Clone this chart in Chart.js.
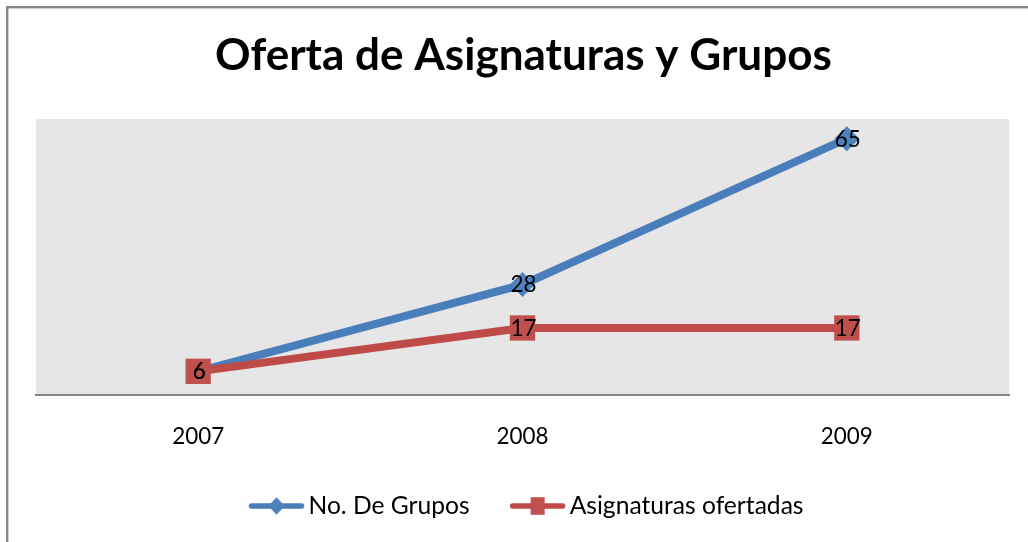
<!DOCTYPE html>
<html>
<head>
<meta charset="utf-8">
<script src="https://cdn.jsdelivr.net/npm/chart.js@4.4.0/dist/chart.umd.min.js"></script>
<style>
  html, body { margin: 0; padding: 0; background: #ffffff; }
  #wrap { position: relative; width: 1028px; height: 542px; }
</style>
</head>
<body>
<div id="wrap"><canvas id="c" width="1028" height="542"></canvas></div>
<script>
// ---- data ----
const chartTitle = 'Oferta de Asignaturas y Grupos';
const categories = ['2007', '2008', '2009'];
const seriesNames = ['No. De Grupos', 'Asignaturas ofertadas'];
const gruposValues = [6, 28, 65];
const asignaturasValues = [6, 17, 17];
const yMin = 0;
const yMax = 70;

// ---- styling ----
const FAMILY = 'Lato';
const BLUE_LINE = '#4A7EBB', BLUE_MARK = '#4F81BD';
const RED_LINE = '#BE4B48', RED_MARK = '#C0504D';

function fitFont(text, width, weight) {
  const c = document.createElement('canvas').getContext('2d');
  c.font = weight + ' 100px ' + FAMILY;
  return 100 * width / c.measureText(text).width;
}

function legendImage(kind, iw, c0) {
  const cv = document.createElement('canvas');
  cv.width = iw; cv.height = 20;
  const g = cv.getContext('2d');
  const cy = 10;
  g.lineCap = 'round';
  g.lineWidth = 5.5;
  g.strokeStyle = kind === 'blue' ? BLUE_LINE : RED_LINE;
  g.beginPath(); g.moveTo(c0 + 3, cy); g.lineTo(c0 + 53, cy); g.stroke();
  g.fillStyle = kind === 'blue' ? BLUE_MARK : RED_MARK;
  const cx = c0 + 28;
  if (kind === 'blue') {
    g.beginPath();
    g.moveTo(cx, cy - 8.8); g.lineTo(cx + 8.3, cy); g.lineTo(cx, cy + 8.8); g.lineTo(cx - 8.3, cy);
    g.closePath(); g.fill();
  } else {
    g.fillRect(cx - 7, cy - 8.8, 14, 17.6);
  }
  return cv;
}

function build() {
  const titleSize = fitFont(chartTitle, 617, 'bold');
  const tickSize = fitFont('2007', 52, 'normal');
  const legendSize = fitFont(seriesNames[1], 234, 'normal');
  const labelSize = fitFont('65', 26, 'normal');

  const plotTop = 119, axisY = 395;
  const titleMid = 57.5 - 0.029 * titleSize;
  const titlePadTop = titleMid - 0.6 * titleSize;
  const titlePadBottom = plotTop - 1.2 * titleSize - titlePadTop;

  // legend geometry
  const d = 7;                                   // offset from item start to visible marker line
  const legendPad = 40 - d;                      // spacing between items
  const boxW = 60 + d - legendSize / 2;          // pointStyleWidth
  const imgW = 84;
  const c0 = imgW / 2 - boxW / 2 + d;
  const legendCenter = 506;
  const legendTop = legendCenter - legendPad - legendSize / 2;
  const legendH = legendSize + legendPad + 10;
  const bottomPad = 542 - legendTop - legendH;
  const axisHeight = legendTop - axisY;
  const tickPad = 437.5 - 0.029 * tickSize - 0.6 * tickSize - axisY;

  const legendImgs = [legendImage('blue', imgW, c0), legendImage('red', imgW, c0)];

  const decorPlugin = {
    id: 'decor',
    beforeDraw(chart) {
      const ctx = chart.ctx, a = chart.chartArea;
      ctx.save();
      ctx.fillStyle = '#E6E6E6';
      ctx.fillRect(a.left, a.top, a.right - a.left, a.bottom - a.top);
      ctx.fillStyle = '#878787';
      ctx.fillRect(6, 6, 2.4, 542);
      ctx.fillRect(6, 6, 1028, 2.4);
      ctx.restore();
    }
  };

  const labelPlugin = {
    id: 'pointLabels',
    afterDatasetsDraw(chart) {
      const ctx = chart.ctx;
      ctx.save();
      ctx.font = 'normal ' + labelSize + 'px ' + FAMILY;
      ctx.fillStyle = '#000000';
      ctx.textAlign = 'center';
      ctx.textBaseline = 'middle';
      chart.data.datasets.forEach((ds, i) => {
        const meta = chart.getDatasetMeta(i);
        meta.data.forEach((pt, j) => {
          ctx.fillText(String(ds.data[j]), pt.x + 1, pt.y + 0.029 * labelSize);
        });
      });
      ctx.restore();
    }
  };

  new Chart(document.getElementById('c'), {
    type: 'line',
    data: {
      labels: categories,
      datasets: [
        {
          label: seriesNames[0],
          data: gruposValues,
          borderColor: BLUE_LINE,
          backgroundColor: BLUE_MARK,
          borderWidth: 8,
          pointStyle: 'rectRot',
          pointRadius: 12.5,
          pointBackgroundColor: BLUE_MARK,
          pointBorderColor: BLUE_MARK,
          pointBorderWidth: 0,
          tension: 0,
          order: 1
        },
        {
          label: seriesNames[1],
          data: asignaturasValues,
          borderColor: RED_LINE,
          backgroundColor: RED_MARK,
          borderWidth: 8,
          pointStyle: 'rect',
          pointRadius: 17.9,
          pointBackgroundColor: RED_MARK,
          pointBorderColor: RED_MARK,
          pointBorderWidth: 0,
          tension: 0,
          order: 0
        }
      ]
    },
    options: {
      responsive: false,
      animation: false,
      events: [],
      layout: { padding: { left: 30, right: 11, top: 0, bottom: bottomPad } },
      scales: {
        x: {
          offset: true,
          grid: { display: false, drawTicks: false },
          border: { display: true, color: '#868686', width: 2 },
          ticks: {
            color: '#000000',
            padding: tickPad,
            font: { family: FAMILY, size: tickSize, lineHeight: 1.2 },
            maxRotation: 0
          },
          afterFit(s) { s.height = axisHeight; }
        },
        y: {
          position: 'left',
          min: yMin,
          max: yMax,
          grid: { display: false, drawTicks: false },
          border: { display: false },
          ticks: { display: false },
          afterFit(s) { s.width = 6; }
        },
        y2: {
          position: 'right',
          grid: { display: false, drawTicks: false },
          border: { display: false },
          ticks: { display: false },
          afterFit(s) { s.width = 8; }
        }
      },
      plugins: {
        title: {
          display: true,
          text: chartTitle,
          color: '#000000',
          font: { family: FAMILY, size: titleSize, weight: 'bold', lineHeight: 1.2 },
          padding: { top: titlePadTop, bottom: titlePadBottom }
        },
        legend: {
          position: 'bottom',
          fullSize: false,
          labels: {
            color: '#000000',
            font: { family: FAMILY, size: legendSize },
            usePointStyle: true,
            pointStyleWidth: boxW,
            padding: legendPad,
            generateLabels(chart) {
              const items = Chart.defaults.plugins.legend.labels.generateLabels(chart);
              items.sort((a, b) => a.datasetIndex - b.datasetIndex);
              items.forEach((it) => { it.pointStyle = legendImgs[it.datasetIndex]; });
              return items;
            }
          }
        },
        tooltip: { enabled: false }
      }
    },
    plugins: [decorPlugin, labelPlugin]
  });
}

if (document.fonts && document.fonts.load) {
  Promise.all([
    document.fonts.load('bold 20px ' + FAMILY),
    document.fonts.load('normal 20px ' + FAMILY)
  ]).then(build, build);
} else {
  build();
}
</script>
</body>
</html>
